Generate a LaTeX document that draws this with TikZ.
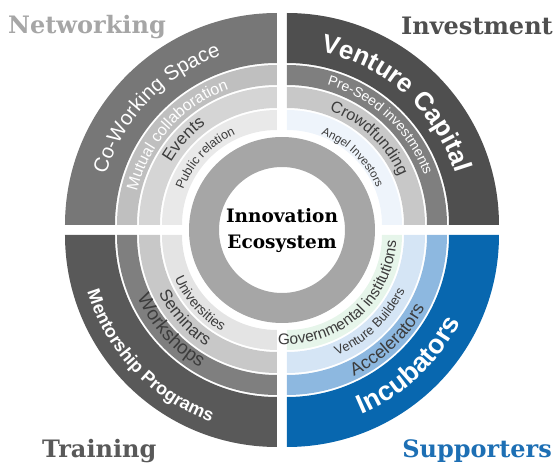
\documentclass[tikz,border=0pt]{standalone}
\usepackage{fontspec}
\setmainfont{DejaVu Serif}
\setsansfont{Liberation Sans}
\usetikzlibrary{decorations.text}
\definecolor{tlA}{HTML}{777777}
\definecolor{tlB}{HTML}{BFBFBF}
\definecolor{tlC}{HTML}{D5D5D5}
\definecolor{tlD}{HTML}{E9E9E9}
\definecolor{trA}{HTML}{4F4F4F}
\definecolor{trB}{HTML}{7F7F7F}
\definecolor{trC}{HTML}{C8C8C8}
\definecolor{trD}{HTML}{EEF4FB}
\definecolor{blA}{HTML}{595959}
\definecolor{blB}{HTML}{7F7F7F}
\definecolor{blC}{HTML}{C8C8C8}
\definecolor{blD}{HTML}{E4E4E4}
\definecolor{brA}{HTML}{0867AF}
\definecolor{brB}{HTML}{8DB8E0}
\definecolor{brC}{HTML}{D5E5F5}
\definecolor{brD}{HTML}{E6F5EA}
\definecolor{hubgray}{HTML}{A6A6A6}
\definecolor{inkdark}{HTML}{3C3C3C}
\definecolor{suppblue}{HTML}{1D6FB4}
\newcommand\arcfont[1]{\sffamily\fontsize{#1}{#1}\selectfont}
\tikzstyle{quarterlabel}=[font=\bfseries\fontsize{24}{24}\selectfont, inner sep=0pt]
\tikzstyle{arctext}=[decoration={text along path, text align=center}, postaction={decorate}]
\begin{document}
\begin{tikzpicture}[x=1pt, y=1pt]
\useasboundingbox (-282,-241) rectangle (276,230);

\fill[tlA, shift={(-5,5)}] (90:212) arc[start angle=90, end angle=180, radius=212] -- (180:162) arc[start angle=180, end angle=90, radius=162] -- cycle;
\fill[tlB, shift={(-5,5)}] (90:160) arc[start angle=90, end angle=180, radius=160] -- (180:140) arc[start angle=180, end angle=90, radius=140] -- cycle;
\fill[tlC, shift={(-5,5)}] (90:138) arc[start angle=90, end angle=180, radius=138] -- (180:117) arc[start angle=180, end angle=90, radius=117] -- cycle;
\fill[tlD, shift={(-5,5)}] (90:115) arc[start angle=90, end angle=180, radius=115] -- (180:95) arc[start angle=180, end angle=90, radius=95] -- cycle;

\fill[trA, shift={(5,5)}] (0:212) arc[start angle=0, end angle=90, radius=212] -- (90:162) arc[start angle=90, end angle=0, radius=162] -- cycle;
\fill[trB, shift={(5,5)}] (0:160) arc[start angle=0, end angle=90, radius=160] -- (90:140) arc[start angle=90, end angle=0, radius=140] -- cycle;
\fill[trC, shift={(5,5)}] (0:138) arc[start angle=0, end angle=90, radius=138] -- (90:117) arc[start angle=90, end angle=0, radius=117] -- cycle;
\fill[trD, shift={(5,5)}] (0:115) arc[start angle=0, end angle=90, radius=115] -- (90:95) arc[start angle=90, end angle=0, radius=95] -- cycle;

\fill[blA, shift={(-5,-5)}] (180:212) arc[start angle=180, end angle=270, radius=212] -- (270:162) arc[start angle=270, end angle=180, radius=162] -- cycle;
\fill[blB, shift={(-5,-5)}] (180:160) arc[start angle=180, end angle=270, radius=160] -- (270:140) arc[start angle=270, end angle=180, radius=140] -- cycle;
\fill[blC, shift={(-5,-5)}] (180:138) arc[start angle=180, end angle=270, radius=138] -- (270:117) arc[start angle=270, end angle=180, radius=117] -- cycle;
\fill[blD, shift={(-5,-5)}] (180:115) arc[start angle=180, end angle=270, radius=115] -- (270:95) arc[start angle=270, end angle=180, radius=95] -- cycle;

\fill[brA, shift={(5,-5)}] (270:212) arc[start angle=270, end angle=360, radius=212] -- (0:162) arc[start angle=360, end angle=270, radius=162] -- cycle;
\fill[brB, shift={(5,-5)}] (270:160) arc[start angle=270, end angle=360, radius=160] -- (0:140) arc[start angle=360, end angle=270, radius=140] -- cycle;
\fill[brC, shift={(5,-5)}] (270:138) arc[start angle=270, end angle=360, radius=138] -- (0:117) arc[start angle=360, end angle=270, radius=117] -- cycle;
\fill[brD, shift={(5,-5)}] (270:115) arc[start angle=270, end angle=360, radius=115] -- (0:95) arc[start angle=360, end angle=270, radius=95] -- cycle;

\fill[hubgray, even odd rule] (0,0) circle (93) (0,0) circle (63);
\node[font=\bfseries\fontsize{18.5}{26}\selectfont, align=center] (hub) at (0,-1) {Innovation\\Ecosystem};

\path[arctext, shift={(-5,5)}, decoration={text={|\arcfont{20.5}\color{white}|Co-Working Space}}] (181:178) arc[start angle=181, end angle=91, radius=178];
\path[arctext, shift={(-5,5)}, decoration={text={|\arcfont{16}\color{white}|Mutual collaboration}}] (183:144) arc[start angle=183, end angle=93, radius=144];
\path[arctext, shift={(-5,5)}, decoration={text={|\arcfont{17}\color{inkdark}|Events}}] (182.5:123) arc[start angle=182.5, end angle=92.5, radius=123];
\path[arctext, shift={(-5,5)}, decoration={text={|\arcfont{12.5}\color{inkdark}|Public relation}}] (182:100) arc[start angle=182, end angle=92, radius=100];

\path[arctext, shift={(5,5)}, decoration={text={|\arcfont{26}\bfseries\color{white}|Venture Capital}}] (93:176) arc[start angle=93, end angle=3, radius=176];
\path[arctext, shift={(5,5)}, decoration={text={|\arcfont{14}\color{white}|Pre-Seed investments}}] (92:146) arc[start angle=92, end angle=2, radius=146];
\path[arctext, shift={(5,5)}, decoration={text={|\arcfont{16}\color{inkdark}|Crowdfunding}}] (91.5:122) arc[start angle=91.5, end angle=1.5, radius=122];
\path[arctext, shift={(5,5)}, decoration={text={|\arcfont{11.5}\color{inkdark}|Angel Investors}}] (91:97) arc[start angle=91, end angle=1, radius=97];

\path[arctext, shift={(-5,-5)}, decoration={text={|\arcfont{18}\bfseries\color{white}|Mentorship Programs}}] (178.6:198) arc[start angle=178.6, end angle=268.6, radius=198];
\path[arctext, shift={(-5,-5)}, decoration={text={|\arcfont{19}\color{inkdark}|Workshops}}] (177:153) arc[start angle=177, end angle=267, radius=153];
\path[arctext, shift={(-5,-5)}, decoration={text={|\arcfont{17}\color{inkdark}|Seminars}}] (177:132) arc[start angle=177, end angle=267, radius=132];
\path[arctext, shift={(-5,-5)}, decoration={text={|\arcfont{14}\color{inkdark}|Universities}}] (176.5:111) arc[start angle=176.5, end angle=266.5, radius=111];

\path[arctext, shift={(5,-5)}, decoration={text={|\arcfont{27}\bfseries\color{white}|Incubators}}] (268:194) arc[start angle=268, end angle=358, radius=194];
\path[arctext, shift={(5,-5)}, decoration={text={|\arcfont{18}\color{inkdark}|Accelerators}}] (268.7:156) arc[start angle=268.7, end angle=358.7, radius=156];
\path[arctext, shift={(5,-5)}, decoration={text={|\arcfont{13}\color{inkdark}|Venture Builders}}] (268.5:130.5) arc[start angle=268.5, end angle=358.5, radius=130.5];
\path[arctext, shift={(5,-5)}, decoration={text={|\arcfont{15.5}\color{inkdark}|Governmental institutions}}] (251:109.5) arc[start angle=251, end angle=371, radius=109.5];

\node[quarterlabel, anchor=base west, text=hubgray] (networking) at (-274,196) {Networking};
\node[quarterlabel, anchor=base east, text=trA] (investment) at (271,195) {Investment};
\node[quarterlabel, anchor=base west, text=blA] (training) at (-240,-228) {Training};
\node[quarterlabel, anchor=base east, text=suppblue] (supporters) at (270,-228) {Supporters};
\end{tikzpicture}
\end{document}
